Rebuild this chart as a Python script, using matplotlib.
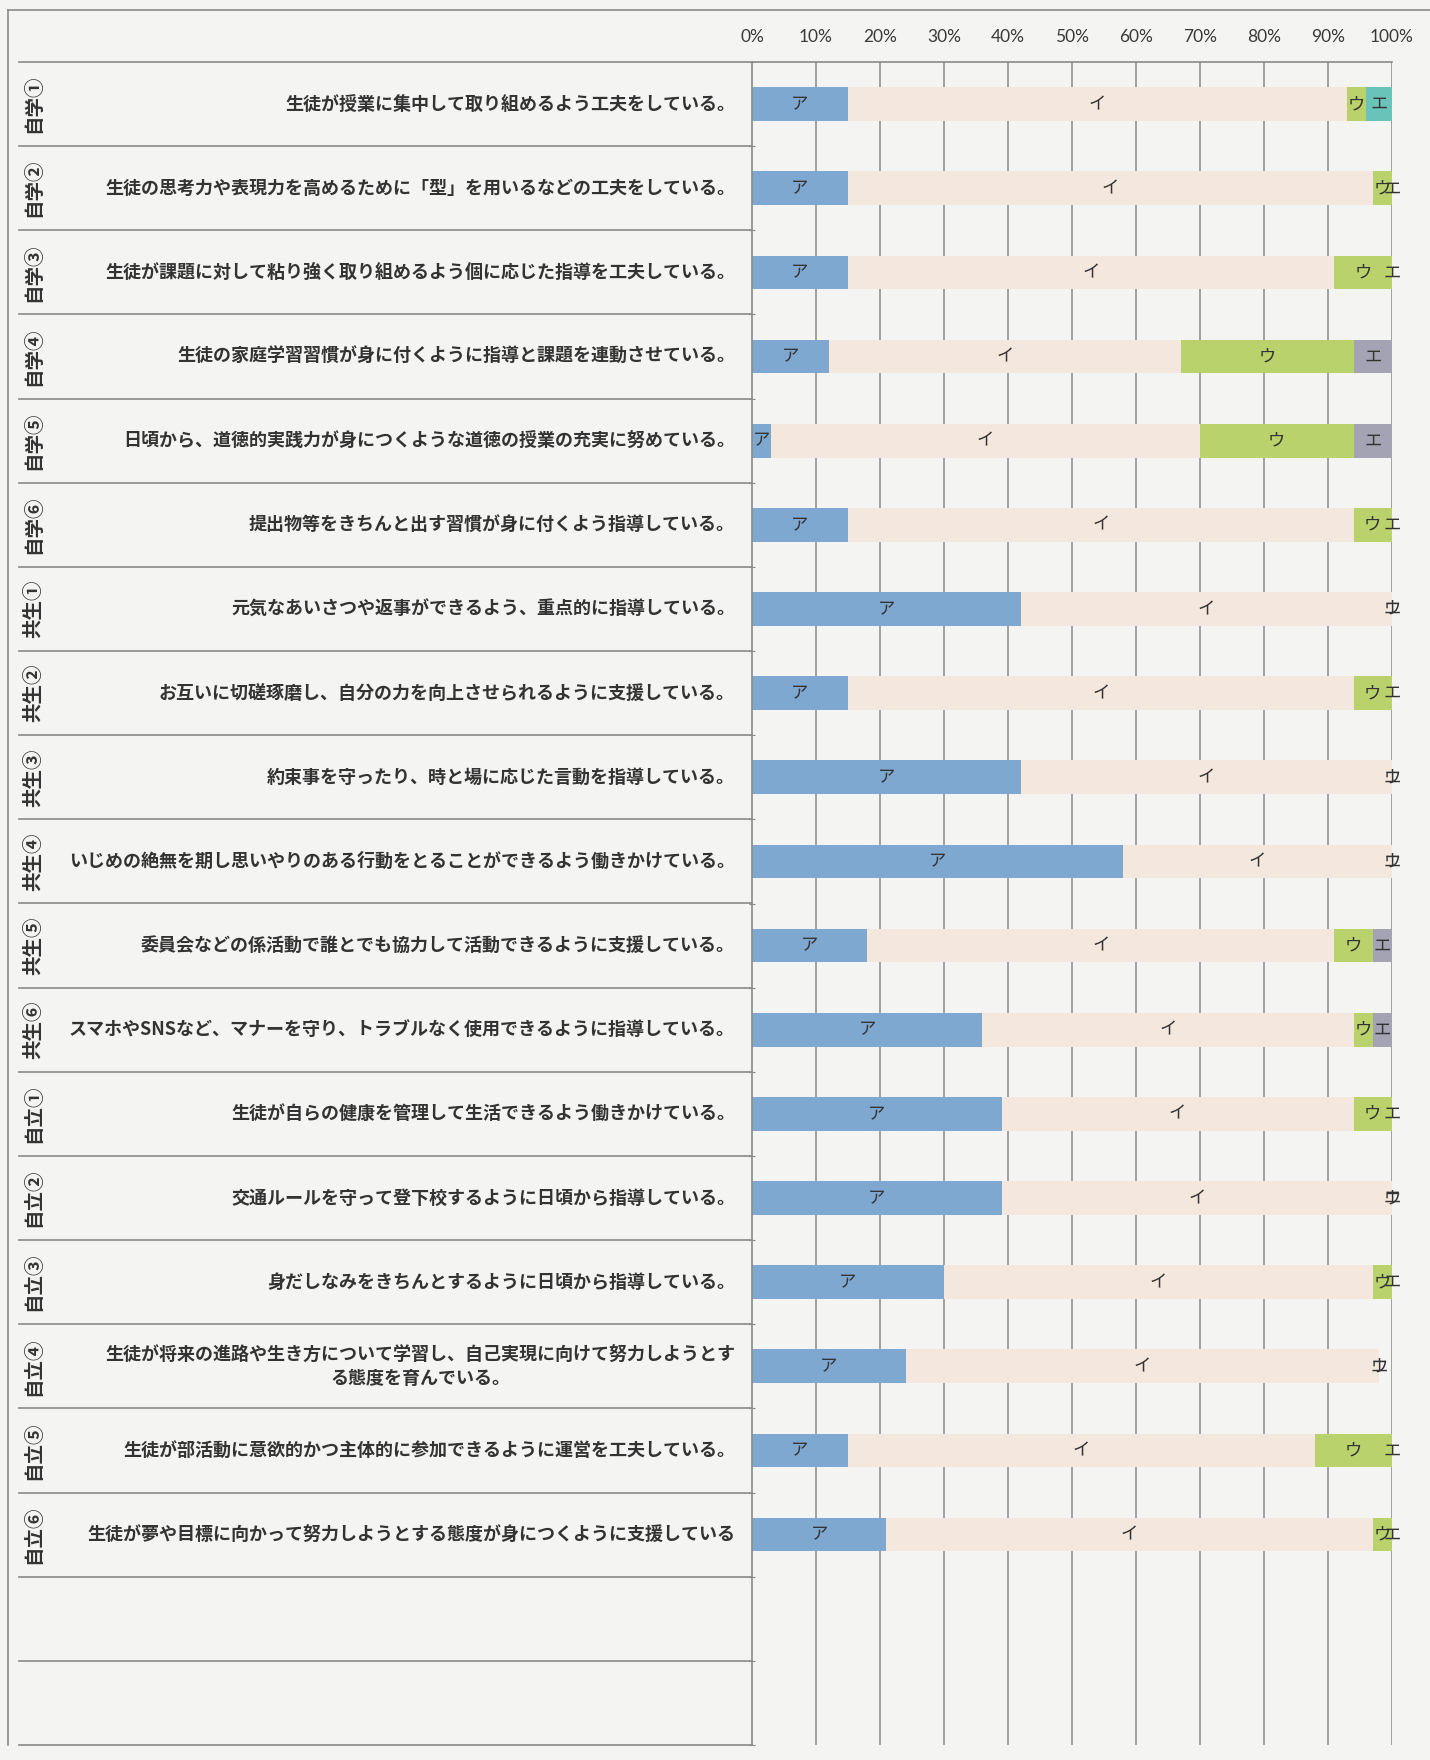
import matplotlib.pyplot as plt
import numpy as np

plt.rcParams['font.family'] = ['Noto Sans CJK JP', 'DejaVu Sans']

# Data
categories = ['自学①', '自学②', '自学③', '自学④', '自学⑤', '自学⑥',
              '共生①', '共生②', '共生③', '共生④', '共生⑤', '共生⑥',
              '自立①', '自立②', '自立③', '自立④', '自立⑤', '自立⑥']
questions = [
    '生徒が授業に集中して取り組めるよう工夫をしている。',
    '生徒の思考力や表現力を高めるために「型」を用いるなどの工夫をしている。',
    '生徒が課題に対して粘り強く取り組めるよう個に応じた指導を工夫している。',
    '生徒の家庭学習習慣が身に付くように指導と課題を連動させている。',
    '日頃から、道徳的実践力が身につくような道徳の授業の充実に努めている。',
    '提出物等をきちんと出す習慣が身に付くよう指導している。',
    '元気なあいさつや返事ができるよう、重点的に指導している。',
    'お互いに切磋琢磨し、自分の力を向上させられるように支援している。',
    '約束事を守ったり、時と場に応じた言動を指導している。',
    'いじめの絶無を期し思いやりのある行動をとることができるよう働きかけている。',
    '委員会などの係活動で誰とでも協力して活動できるように支援している。',
    'スマホやSNSなど、マナーを守り、トラブルなく使用できるように指導している。',
    '生徒が自らの健康を管理して生活できるよう働きかけている。',
    '交通ルールを守って登下校するように日頃から指導している。',
    '身だしなみをきちんとするように日頃から指導している。',
    '生徒が将来の進路や生き方について学習し、自己実現に向けて努力しようとす\nる態度を育んでいる。',
    '生徒が部活動に意欲的かつ主体的に参加できるように運営を工夫している。',
    '生徒が夢や目標に向かって努力しようとする態度が身につくように支援している',
]
series_names = ['ア', 'イ', 'ウ', 'エ']
val_a = [15, 15, 15, 12, 3, 15, 42, 15, 42, 58, 18, 36, 39, 39, 30, 24, 15, 21]
val_i = [78, 82, 76, 55, 67, 79, 58, 79, 58, 42, 73, 58, 55, 61, 67, 74, 73, 76]
val_u = [3, 3, 9, 27, 24, 6, 0, 6, 0, 0, 6, 3, 6, 0, 3, 0, 12, 3]
val_e = [4, 0, 0, 6, 6, 0, 0, 0, 0, 0, 3, 3, 0, 0, 0, 0, 0, 0]
xticks = [0, 10, 20, 30, 40, 50, 60, 70, 80, 90, 100]

# Style
bg = '#f4f4f2'
c_a = '#7fa8d0'
c_i = '#f4e7de'
c_u = '#bad26c'
c_e = '#a4a3b4'
c_e_first = '#69c3b9'
line_c = '#8a8a8a'
txt_c = '#333333'

W, H = 1430, 1760
n_rows = 20
top_px, bot_px = 62, 1745
x0_px, x100_px = 752, 1392
row_h = (bot_px - top_px) / n_rows

fig = plt.figure(figsize=(W / 100, H / 100), dpi=100, facecolor=bg)

# background axes in pixel units for the table part
bga = fig.add_axes([0, 0, 1, 1])
bga.set_xlim(0, W)
bga.set_ylim(H, 0)
bga.axis('off')

# frame
bga.plot([8, W], [10, 10], color=line_c, lw=1.2)
bga.plot([8, 8], [10, bot_px], color=line_c, lw=1.2)
bga.plot([19, x100_px], [top_px, top_px], color=line_c, lw=1.2)
for k in range(1, n_rows + 1):
    y = top_px + k * row_h
    bga.plot([19, x0_px], [y, y], color=line_c, lw=1.2)

for idx, (cat, q) in enumerate(zip(categories, questions)):
    yc = top_px + (idx + 0.5) * row_h
    bga.text(34, yc, cat, rotation=90, ha='center', va='center',
             fontsize=14, fontweight='bold', color=txt_c)
    bga.text(735, yc, q, ha='right', va='center', multialignment='center',
             fontsize=13, fontweight='bold', color=txt_c, linespacing=1.35)

# chart axes
ax = fig.add_axes([x0_px / W, 1 - bot_px / H, (x100_px - x0_px) / W, (bot_px - top_px) / H])
ax.set_facecolor('none')
ax.set_xlim(0, 100)
ax.set_ylim(n_rows, 0)
ax.set_xticks(xticks)
ax.set_xticklabels([f'{t}%' for t in xticks], fontsize=12.5, color='#3a3a3a',
                   family=['Lato', 'DejaVu Sans'])
ax.xaxis.tick_top()
ax.tick_params(axis='x', length=0, pad=12)
ax.set_yticks(np.arange(0, n_rows + 1))
ax.set_yticklabels([])
ax.tick_params(axis='y', length=4, direction='inout', color=line_c)
for t in xticks[1:]:
    ax.axvline(t, color=line_c, lw=1.1, zorder=0)
for s in ['top', 'right', 'bottom']:
    ax.spines[s].set_visible(False)
ax.spines['left'].set_color(line_c)
ax.spines['left'].set_linewidth(1.2)

ypos = np.arange(len(categories)) + 0.5
vals = [np.array(val_a), np.array(val_i), np.array(val_u), np.array(val_e)]
e_colors = [c_e_first] + [c_e] * (len(categories) - 1)
colors = [[c_a] * len(categories), [c_i] * len(categories), [c_u] * len(categories), e_colors]

left = np.zeros(len(categories))
for name, v, col in zip(series_names, vals, colors):
    ax.barh(ypos, v, left=left, height=0.4, color=col, edgecolor='none', zorder=2)
    for y, l, w in zip(ypos, left, v):
        ax.text(l + w / 2, y, name, ha='center', va='center', fontsize=12.5,
                color=txt_c, zorder=3)
    left = left + v

fig.savefig('out.png', dpi=100, facecolor=bg)
